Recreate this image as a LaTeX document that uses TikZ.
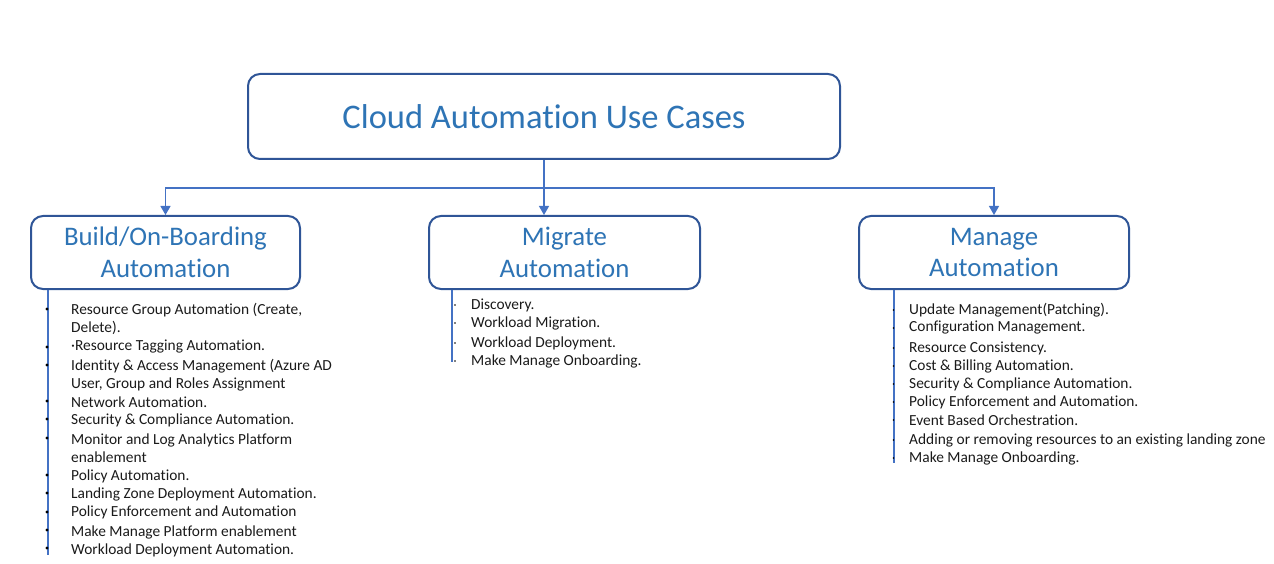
\documentclass[tikz,border=0pt]{standalone}
\usepackage{fontspec}
\setmainfont{Carlito}[RawFeature={-liga}]
\usetikzlibrary{arrows.meta}
\definecolor{boxline}{HTML}{2F5597}
\definecolor{titleblue}{HTML}{2E74B5}
\definecolor{linkblue}{HTML}{4472C4}
\definecolor{itemtext}{HTML}{1A1A1A}
\tikzset{
  mainbox/.style={draw=boxline, line width=2pt, rounded corners=12pt, fill=white,
    text=titleblue, align=center, inner sep=0pt},
  subbox/.style={mainbox, font=\fontsize{26.8}{32}\selectfont},
  link/.style={draw=linkblue, line width=1.2pt},
  arr/.style={link, -{Triangle[width=10pt,length=9pt]}},
  item/.style={anchor=west, inner sep=0pt, align=left, text=itemtext,
    font=\fontsize{15.4}{18}\selectfont},
  dotbig/.style={fill=black, draw=none, circle, minimum size=3.2pt, inner sep=0pt},
  dotsmall/.style={fill=black, draw=none, circle, minimum size=1.8pt, inner sep=0pt},
}
\begin{document}
\begin{tikzpicture}[x=1pt,y=-1pt]
\useasboundingbox (0,0) rectangle (1274,564);

% boxes
\node[mainbox, minimum width=592pt, minimum height=85pt, font=\fontsize{34.5}{40}\selectfont]
  (top) at (544,116.5) {Cloud Automation Use Cases};
\node[subbox, minimum width=269pt, minimum height=73pt] (build) at (165.5,252.5) {Build/On-Boarding\\Automation};
\node[subbox, minimum width=271pt, minimum height=73pt] (mig) at (564.5,252.5) {Migrate\\Automation};
\node[subbox, minimum width=270pt, minimum height=73pt] (man) at (994,252.5) {Manage\\Automation};

% connectors from the top box
\coordinate (jn) at (544,188);
\draw[link] (top.south) -- (jn);
\draw[arr] (jn) -| (build.north);
\draw[arr] (jn) -| (man.north);
\draw[arr] (jn) -- (jn |- mig.north);

% list spines
\coordinate (bEnd) at (48,555);
\coordinate (gEnd) at (452,362);
\coordinate (mEnd) at (894,463);
\draw[link] (build.south -| bEnd) -- (bEnd);
\draw[link] (mig.south -| gEnd) -- (gEnd);
\draw[link] (man.south -| mEnd) -- (mEnd);

% Build list
\node[item] (b1) at (71,319) {Resource Group Automation (Create,\\Delete).};
\node[item] (b2) at (71,347) {·Resource Tagging Automation.};
\node[item] (b3) at (71,375) {Identity \& Access Management (Azure AD\\User, Group and Roles Assignment};
\node[item] (b4) at (71,402) {Network Automation.};
\node[item] (b5) at (71,420) {Security \& Compliance Automation.};
\node[item] (b6) at (71,448) {Monitor and Log Analytics Platform\\enablement};
\node[item] (b7) at (71,476) {Policy Automation.};
\node[item] (b8) at (71,494) {Landing Zone Deployment Automation.};
\node[item] (b9) at (71,512) {Policy Enforcement and Automation};
\node[item] (b10) at (71,532) {Make Manage Platform enablement};
\node[item] (b11) at (71,550) {Workload Deployment Automation.};
\foreach \y/\n in {309/d1,347/d2,365/d3,401/d4,419/d5,438/d6,475/d7,493/d8,512/d9,530/d10,548/d11}
  \node[dotbig] (bd\n) at (47,\y) {};

% Migrate list
\node[item] (g1) at (471,305) {Discovery.};
\node[item] (g2) at (471,323) {Workload Migration.};
\node[item] (g3) at (471,343) {Workload Deployment.};
\node[item] (g4) at (471,361) {Make Manage Onboarding.};
\foreach \y/\n in {305/1,323/2,343/3,361/4}
  \node[dotsmall] (gd\n) at (455,\y) {};

% Manage list
\node[item] (m1) at (909,310) {Update Management(Patching).};
\node[item] (m2) at (909,328) {Configuration Management.};
\node[item] (m3) at (909,348) {Resource Consistency.};
\node[item] (m4) at (909,366) {Cost \& Billing Automation.};
\node[item] (m5) at (909,384) {Security \& Compliance Automation.};
\node[item] (m6) at (909,402) {Policy Enforcement and Automation.};
\node[item] (m7) at (909,420) {Event Based Orchestration.};
\node[item] (m8) at (909,440) {Adding or removing resources to an existing landing zone};
\node[item] (m9) at (909,458) {Make Manage Onboarding.};
\foreach \y/\n in {310/1,328/2,348/3,366/4,384/5,402/6,420/7,440/8,458/9}
  \node[dotsmall] (md\n) at (893.5,\y) {};
\end{tikzpicture}
\end{document}
